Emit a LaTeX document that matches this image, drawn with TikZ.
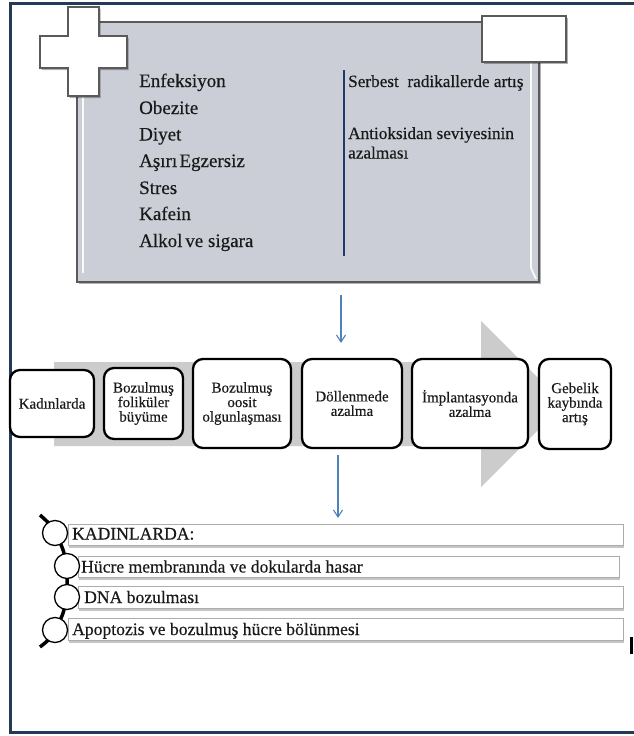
\documentclass[tikz,border=0pt]{standalone}
\usepackage{fontspec}
\setmainfont{Liberation Serif}[FakeBold=0.35]
\usetikzlibrary{arrows.meta,shadows}

\definecolor{framenavy}{HTML}{243A56}
\definecolor{panelgray}{HTML}{CBCED6}
\definecolor{edgegray}{HTML}{5A5A5A}
\definecolor{barblue}{HTML}{1F3A66}
\definecolor{arrowblue}{HTML}{4F81BD}
\definecolor{bandgray}{HTML}{CCCCCC}
\definecolor{inkblack}{HTML}{1A1A1A}

\tikzset{
  softshadow/.style={drop shadow={shadow xshift=1.5pt, shadow yshift=-2pt, opacity=0.3, fill=black}},
  panelbox/.style={rectangle, draw=edgegray, line width=1.2pt, fill=panelgray, softshadow, inner sep=0pt},
  tagbox/.style={rectangle, draw=edgegray, line width=1.2pt, fill=white, softshadow, inner sep=0pt},
  listtext/.style={anchor=base west, inner sep=0pt, text=inkblack, font=\fontsize{19}{22}\selectfont},
  sidetext/.style={anchor=base west, inner sep=0pt, text=inkblack, font=\fontsize{17.2}{20}\selectfont},
  flowbox/.style={rectangle, draw=black, line width=2.3pt, rounded corners=10pt, fill=white,
                  align=center, inner sep=0pt, text=inkblack, font=\fontsize{15}{14.5}\selectfont},
  rowbox/.style={rectangle, draw=gray!65, line width=0.9pt, fill=white, inner sep=0pt,
                 drop shadow={shadow xshift=1pt, shadow yshift=-2.5pt, opacity=0.45, fill=gray}},
  rowtext/.style={anchor=base west, inner sep=0pt, text=inkblack, font=\fontsize{17.6}{20}\selectfont},
  bead/.style={circle, draw=black, fill=white, line width=1.3pt, minimum size=25pt, inner sep=0pt},
  linkarrow/.style={draw=arrowblue, line width=1.1pt, -{Straight Barb[length=7pt, width=9pt, line width=1.1pt]}},
}

\begin{document}
\begin{tikzpicture}[x=1pt,y=-1pt]
\useasboundingbox (0,0) rectangle (633,736);
\fill[white] (0,0) rectangle (633,736);

% page frame (open on the right)
\draw[framenavy, line width=3pt] (634,3) -- (10,3) -- (10,732) -- (634,732);

% risk factor panel with bevel highlights
\node[panelbox, minimum width=462pt, minimum height=260pt] (panel) at (308,152) {};
\draw[white, line width=1.8pt, opacity=0.9] (83,26) -- (83,273);
\draw[white, line width=1.8pt, opacity=0.9] (531,26) -- (531,268) -- (536,279);

% cross and small tag
\filldraw[fill=white, draw=edgegray, line width=1.2pt, softshadow]
  (68,7) -- (99,7) -- (99,36) -- (127,36) -- (127,68) -- (99,68) -- (99,96)
  -- (68,96) -- (68,68) -- (40,68) -- (40,36) -- (68,36) -- cycle;
\node[tagbox, minimum width=84pt, minimum height=46pt] (tag) at (524,39) {};

% factors
\node[listtext] (f1) at (139,87) {Enfeksiyon};
\node[listtext] (f2) at (139,114) {Obezite};
\node[listtext] (f3) at (139,140.5) {Diyet};
\node[listtext] (f4) at (139,167) {Aşırı\hspace{0.12em}Egzersiz};
\node[listtext] (f5) at (139,194) {Stres};
\node[listtext] (f6) at (139,220) {Kafein};
\node[listtext] (f7) at (139,247) {Alkol\hspace{0.15em}ve sigara};

% divider and consequences
\draw[barblue, line width=2.2pt] (344,70) -- (344,256);
\node[sidetext] (s1) at (348,87) {Serbest\ \ radikallerde artış};
\node[sidetext] (s2) at (348,139) {Antioksidan seviyesinin};
\node[sidetext] (s3) at (348,158.5) {azalması};

% gray process arrow
\fill[bandgray] (54,362) -- (481,362) -- (481,321) -- (564,404) -- (481,487)
  -- (481,446) -- (54,446) -- cycle;

% process steps
\node[flowbox, minimum width=84pt, minimum height=67pt] (b1) at (52,403.5) {Kadınlarda};
\node[flowbox, minimum width=79pt, minimum height=71pt] (b2) at (143.5,403.5) {Bozulmuş\\foliküler\\büyüme};
\node[flowbox, minimum width=98pt, minimum height=89pt] (b3) at (242,403.5) {Bozulmuş\\oosit\\olgunlaşması};
\node[flowbox, minimum width=100pt, minimum height=89pt] (b4) at (352,403.5) {Döllenmede\\azalma};
\node[flowbox, minimum width=116pt, minimum height=89pt] (b5) at (470,403.5) {İmplantasyonda\\azalma};
\node[flowbox, minimum width=72pt, minimum height=90pt] (b6) at (575,404) {Gebelik\\kaybında\\artış};

% connecting arrows
\coordinate (a1s) at (341,295);
\coordinate (a1e) at (341,343);
\draw[linkarrow] (a1s) -- (a1e);
\coordinate (a2s) at (338,455);
\coordinate (a2e) at (338,518);
\draw[linkarrow] (a2s) -- (a2e);

% effect rows
\node[rowbox, minimum width=555pt, minimum height=21pt] (r1) at (345.5,534.5) {};
\node[rowbox, minimum width=541pt, minimum height=21pt] (r2) at (348.5,566.5) {};
\node[rowbox, minimum width=545pt, minimum height=22pt] (r3) at (350.5,597) {};
\node[rowbox, minimum width=555pt, minimum height=22pt] (r4) at (345.5,629) {};

% chain of beads
\coordinate (ctop) at (40,515);
\coordinate (cbot) at (40,647);
\draw[black, line width=3.5pt]
  (ctop) .. controls (50,524) .. (55,533)
  .. controls (63,548) .. (67,566)
  -- (67,597)
  .. controls (63,615) .. (55,630)
  .. controls (50,639) .. (cbot);
\node[bead] (c1) at (55,533) {};
\node[bead] (c2) at (67,566) {};
\node[bead] (c3) at (67,597) {};
\node[bead] (c4) at (55,630) {};

\node[rowtext] (t1) at (72,539.5) {KADINLARDA:};
\node[rowtext] (t2) at (81,572.5) {Hücre membranında ve dokularda hasar};
\node[rowtext] (t3) at (84,603) {DNA bozulması};
\node[rowtext] (t4) at (72,635) {Apoptozis ve bozulmuş hücre bölünmesi};

% clipped mark at the right edge
\fill[black] (630,637) rectangle (633,654);
\end{tikzpicture}
\end{document}
